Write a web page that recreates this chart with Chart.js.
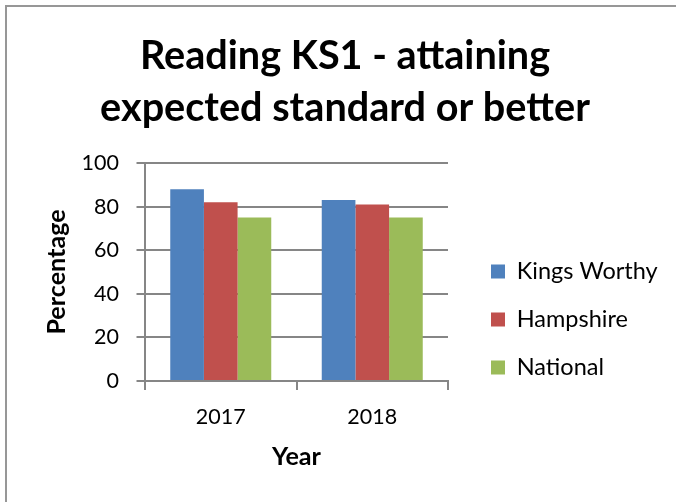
<!DOCTYPE html>
<html><head><meta charset="utf-8">
<script src="https://cdn.jsdelivr.net/npm/chart.js@4.4.1/dist/chart.umd.min.js"></script>
<style>
html,body{margin:0;padding:0;background:#fff;overflow:hidden;width:676px;height:502px;}
#frame{position:absolute;left:5px;top:5px;width:800px;height:800px;border-left:2px solid #979797;border-top:2px solid #979797;}
#wrap{position:absolute;left:0;top:0;width:676px;height:502px;}
</style></head><body>
<div id="frame"></div>
<div id="wrap"><canvas id="c" width="676" height="502"></canvas></div>
<script>
const categories = ['2017', '2018'];
const kingsWorthy = [88, 83];
const hampshire = [82, 81];
const national = [75, 75];
const seriesNames = ['Kings Worthy', 'Hampshire', 'National'];
const yTicks = [0, 20, 40, 60, 80, 100];
const titleLines = ['Reading KS1 - attaining', 'expected standard or better'];
const xTitle = 'Year';
const yTitle = 'Percentage';

const FONT = 'Lato';
function fitSize(text, weight, target) {
  const c = document.createElement('canvas').getContext('2d');
  c.font = weight + ' 100px ' + FONT;
  return 100 * target / c.measureText(text).width;
}
const titleSize = fitSize(titleLines[1], 'bold', 490);
const legendSize = 23.5;
const tickSize = 21.5;
const axisTitleSize = fitSize(xTitle, 'bold', 49);
const gridColor = '#868686';
const legendPad = 24.5;

const legendTweak = {
  id: 'legendTweak',
  afterInit(chart) {
    const lg = chart.legend;
    const of = lg.fit.bind(lg);
    lg.fit = function () { of(); this.width = 228; };
  },
  afterLayout(chart) {
    const lg = chart.legend;
    lg.left = 491 - legendPad;
    lg.top += 68.5;
    lg.bottom += 68.5;
  }
};

new Chart(document.getElementById('c'), {
  type: 'bar',
  data: {
    labels: categories,
    datasets: [
      { label: seriesNames[0], data: kingsWorthy, backgroundColor: '#4F81BD' },
      { label: seriesNames[1], data: hampshire, backgroundColor: '#C0504D' },
      { label: seriesNames[2], data: national, backgroundColor: '#9BBB59' }
    ]
  },
  options: {
    responsive: false,
    animation: false,
    layout: { padding: { left: 14, right: 0, top: 0, bottom: 0 } },
    datasets: { bar: { categoryPercentage: 3 / 4.5, barPercentage: 1, borderWidth: 0 } },
    plugins: {
      title: {
        display: true, text: titleLines, color: '#000',
        font: { family: FONT, weight: 'bold', size: titleSize, lineHeight: 52 / titleSize },
        padding: { top: 30, bottom: 29 }
      },
      legend: {
        position: 'right',
        labels: { boxWidth: 14, boxHeight: 14, padding: legendPad, color: '#000', font: { family: FONT, size: legendSize } }
      },
      tooltip: { enabled: false }
    },
    scales: {
      x: {
        grid: { display: true, drawOnChartArea: false, drawTicks: true, tickLength: 9, color: gridColor, lineWidth: 2, offset: true },
        border: { display: true, color: gridColor, width: 2 },
        ticks: { color: '#000', font: { family: FONT, size: tickSize }, padding: 14 },
        title: { display: true, text: xTitle, color: '#000', font: { family: FONT, weight: 'bold', size: axisTitleSize, lineHeight: 1.2 }, padding: { top: 0, bottom: 45 - axisTitleSize * 0.6 } },
        afterFit(s) { s.height = 121; }
      },
      y: {
        min: 0, max: 100,
        afterBuildTicks(s) { s.ticks = yTicks.map(v => ({ value: v })); },
        grid: { color: gridColor, lineWidth: 2, drawTicks: true, tickLength: 8.5 },
        border: { display: true, color: gridColor, width: 2 },
        ticks: { color: '#000', font: { family: FONT, size: tickSize }, padding: 17.5 },
        title: { display: true, text: yTitle, color: '#000', font: { family: FONT, weight: 'bold', size: axisTitleSize, lineHeight: 1.2 }, padding: { top: 43 - axisTitleSize * 0.6, bottom: 0 } },
        afterFit(s) { s.width = 131; }
      }
    }
  },
  plugins: [legendTweak]
});
</script>
</body></html>
